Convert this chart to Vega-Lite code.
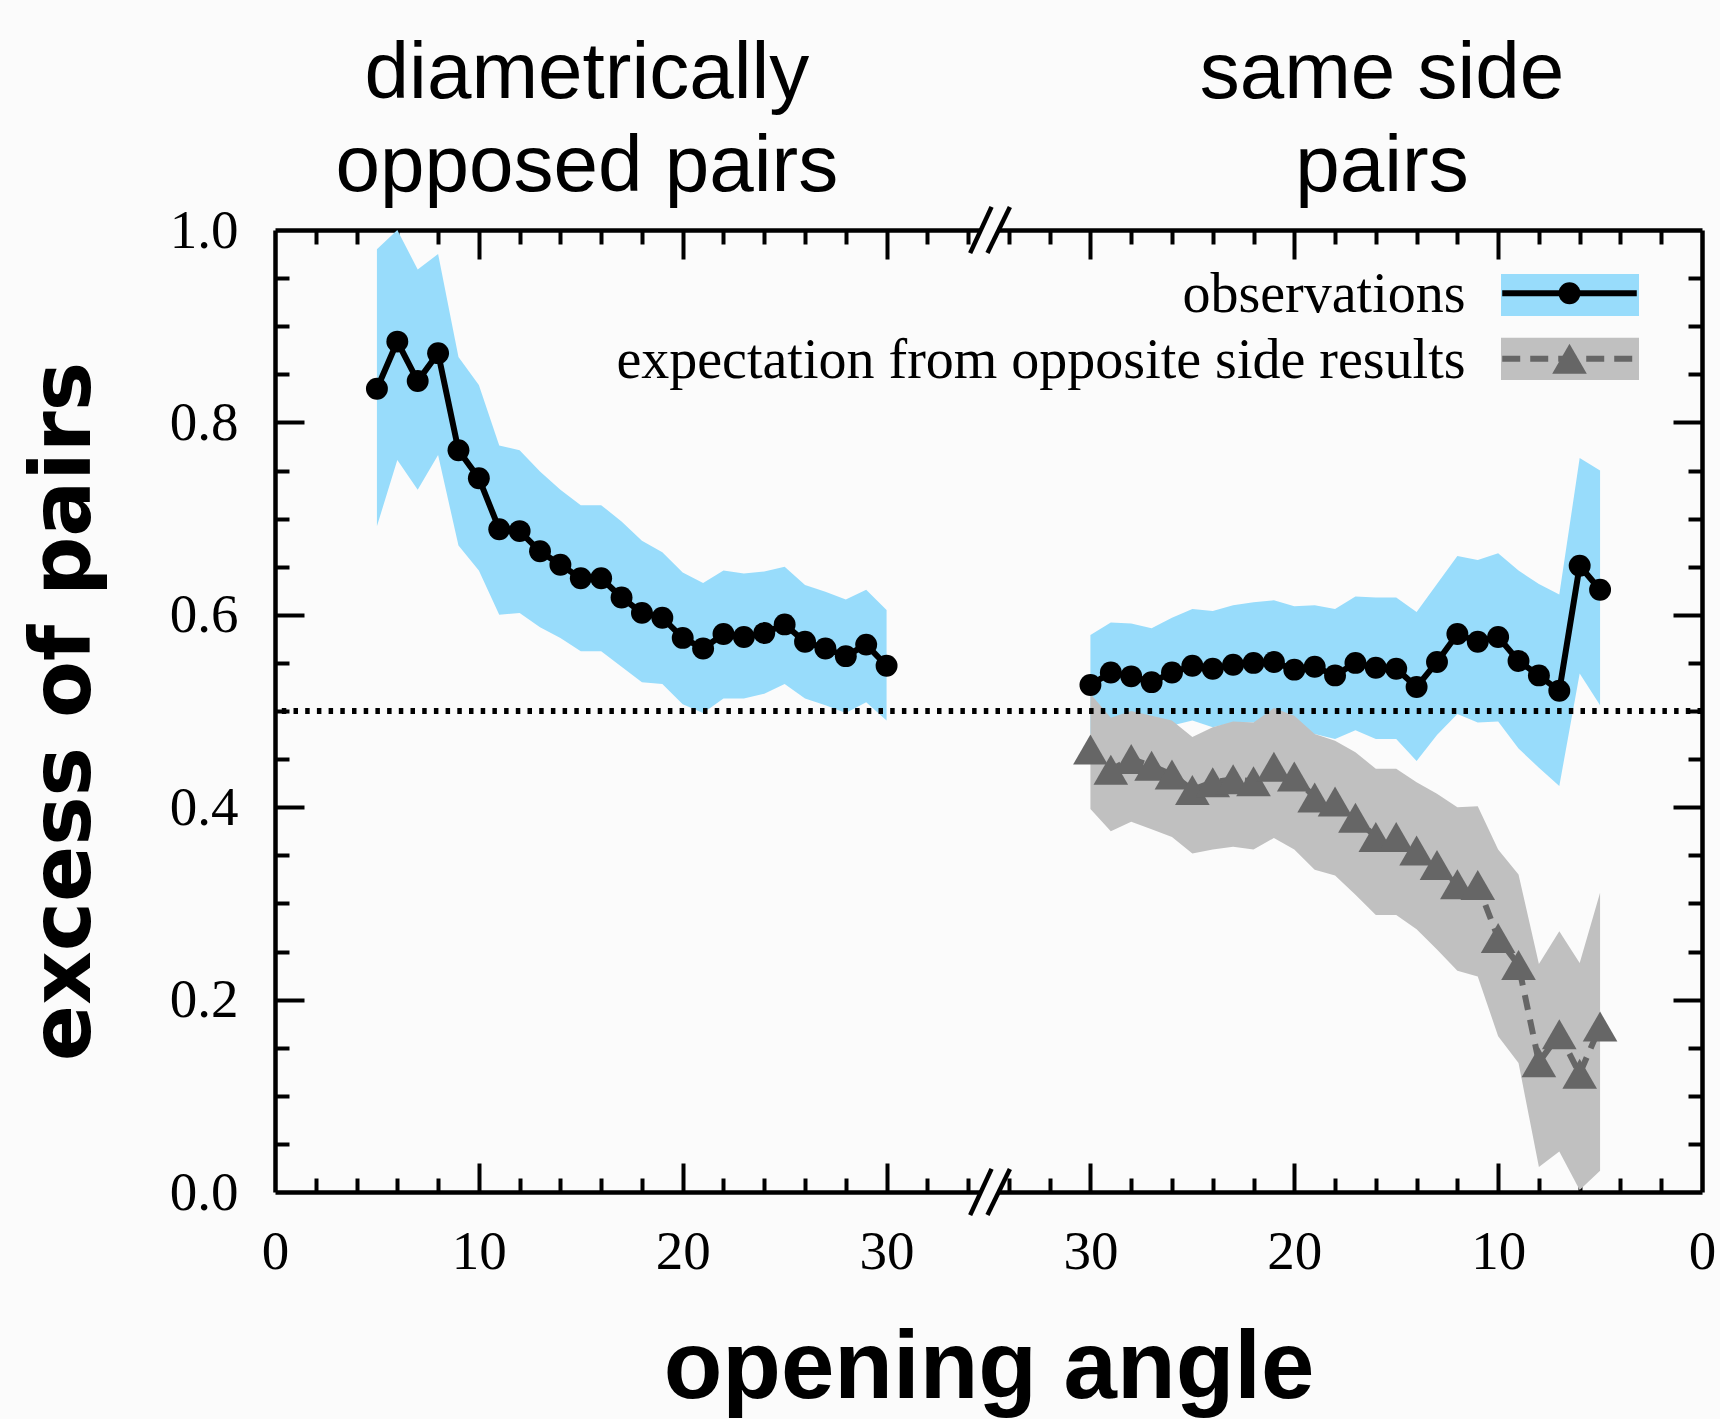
{
  "$schema": "https://vega.github.io/schema/vega-lite/v6.json",
  "width": 1427,
  "height": 962,
  "autosize": {"type": "none"},
  "padding": {"left": 275, "top": 230, "right": 18, "bottom": 227},
  "background": "#fbfbfb",
  "config": {
    "view": {"stroke": null},
    "axis": {
      "grid": false,
      "domainColor": "#000000",
      "domainWidth": 4.5,
      "tickColor": "#000000",
      "tickWidth": 4,
      "labelColor": "#000000",
      "titleColor": "#000000",
      "labelFont": "Liberation Serif",
      "labelFontSize": 55
    }
  },
  "datasets": {
    "opposed": [
      {"angle": 5, "obs": 0.835, "lo": 0.692, "hi": 0.980},
      {"angle": 6, "obs": 0.884, "lo": 0.761, "hi": 1.000},
      {"angle": 7, "obs": 0.843, "lo": 0.730, "hi": 0.959},
      {"angle": 8, "obs": 0.872, "lo": 0.766, "hi": 0.975},
      {"angle": 9, "obs": 0.771, "lo": 0.672, "hi": 0.868},
      {"angle": 10, "obs": 0.742, "lo": 0.646, "hi": 0.839},
      {"angle": 11, "obs": 0.689, "lo": 0.600, "hi": 0.776},
      {"angle": 12, "obs": 0.687, "lo": 0.602, "hi": 0.771},
      {"angle": 13, "obs": 0.666, "lo": 0.587, "hi": 0.749},
      {"angle": 14, "obs": 0.652, "lo": 0.576, "hi": 0.730},
      {"angle": 15, "obs": 0.638, "lo": 0.562, "hi": 0.714},
      {"angle": 16, "obs": 0.638, "lo": 0.562, "hi": 0.714},
      {"angle": 17, "obs": 0.618, "lo": 0.546, "hi": 0.697},
      {"angle": 18, "obs": 0.602, "lo": 0.530, "hi": 0.677},
      {"angle": 19, "obs": 0.597, "lo": 0.528, "hi": 0.665},
      {"angle": 20, "obs": 0.576, "lo": 0.507, "hi": 0.644},
      {"angle": 21, "obs": 0.565, "lo": 0.498, "hi": 0.633},
      {"angle": 22, "obs": 0.580, "lo": 0.513, "hi": 0.646},
      {"angle": 23, "obs": 0.577, "lo": 0.513, "hi": 0.643},
      {"angle": 24, "obs": 0.581, "lo": 0.518, "hi": 0.645},
      {"angle": 25, "obs": 0.590, "lo": 0.528, "hi": 0.650},
      {"angle": 26, "obs": 0.572, "lo": 0.513, "hi": 0.631},
      {"angle": 27, "obs": 0.565, "lo": 0.506, "hi": 0.624},
      {"angle": 28, "obs": 0.557, "lo": 0.498, "hi": 0.616},
      {"angle": 29, "obs": 0.569, "lo": 0.509, "hi": 0.626},
      {"angle": 30, "obs": 0.547, "lo": 0.490, "hi": 0.605}
    ],
    "same": [
      {"angle": 30, "obs": 0.527, "lo": 0.476, "hi": 0.579, "exp": 0.460, "exp_lo": 0.398, "exp_hi": 0.518},
      {"angle": 29, "obs": 0.540, "lo": 0.487, "hi": 0.592, "exp": 0.439, "exp_lo": 0.375, "exp_hi": 0.493},
      {"angle": 28, "obs": 0.536, "lo": 0.481, "hi": 0.591, "exp": 0.450, "exp_lo": 0.385, "exp_hi": 0.500},
      {"angle": 27, "obs": 0.530, "lo": 0.474, "hi": 0.586, "exp": 0.443, "exp_lo": 0.377, "exp_hi": 0.495},
      {"angle": 26, "obs": 0.540, "lo": 0.485, "hi": 0.597, "exp": 0.434, "exp_lo": 0.369, "exp_hi": 0.490},
      {"angle": 25, "obs": 0.547, "lo": 0.490, "hi": 0.606, "exp": 0.418, "exp_lo": 0.352, "exp_hi": 0.473},
      {"angle": 24, "obs": 0.544, "lo": 0.483, "hi": 0.604, "exp": 0.426, "exp_lo": 0.356, "exp_hi": 0.483},
      {"angle": 23, "obs": 0.548, "lo": 0.488, "hi": 0.610, "exp": 0.429, "exp_lo": 0.359, "exp_hi": 0.489},
      {"angle": 22, "obs": 0.550, "lo": 0.488, "hi": 0.613, "exp": 0.427, "exp_lo": 0.356, "exp_hi": 0.488},
      {"angle": 21, "obs": 0.551, "lo": 0.490, "hi": 0.615, "exp": 0.442, "exp_lo": 0.368, "exp_hi": 0.503},
      {"angle": 20, "obs": 0.543, "lo": 0.478, "hi": 0.609, "exp": 0.432, "exp_lo": 0.356, "exp_hi": 0.495},
      {"angle": 19, "obs": 0.546, "lo": 0.476, "hi": 0.610, "exp": 0.410, "exp_lo": 0.335, "exp_hi": 0.476},
      {"angle": 18, "obs": 0.537, "lo": 0.471, "hi": 0.606, "exp": 0.406, "exp_lo": 0.329, "exp_hi": 0.469},
      {"angle": 17, "obs": 0.550, "lo": 0.480, "hi": 0.619, "exp": 0.389, "exp_lo": 0.309, "exp_hi": 0.457},
      {"angle": 16, "obs": 0.545, "lo": 0.471, "hi": 0.618, "exp": 0.369, "exp_lo": 0.288, "exp_hi": 0.440},
      {"angle": 15, "obs": 0.544, "lo": 0.471, "hi": 0.618, "exp": 0.369, "exp_lo": 0.288, "exp_hi": 0.440},
      {"angle": 14, "obs": 0.525, "lo": 0.448, "hi": 0.603, "exp": 0.355, "exp_lo": 0.273, "exp_hi": 0.426},
      {"angle": 13, "obs": 0.551, "lo": 0.475, "hi": 0.632, "exp": 0.340, "exp_lo": 0.252, "exp_hi": 0.414},
      {"angle": 12, "obs": 0.580, "lo": 0.497, "hi": 0.661, "exp": 0.320, "exp_lo": 0.230, "exp_hi": 0.400},
      {"angle": 11, "obs": 0.572, "lo": 0.488, "hi": 0.657, "exp": 0.319, "exp_lo": 0.224, "exp_hi": 0.401},
      {"angle": 10, "obs": 0.577, "lo": 0.489, "hi": 0.664, "exp": 0.264, "exp_lo": 0.162, "exp_hi": 0.356},
      {"angle": 9, "obs": 0.552, "lo": 0.461, "hi": 0.646, "exp": 0.236, "exp_lo": 0.134, "exp_hi": 0.330},
      {"angle": 8, "obs": 0.537, "lo": 0.441, "hi": 0.632, "exp": 0.135, "exp_lo": 0.026, "exp_hi": 0.237},
      {"angle": 7, "obs": 0.521, "lo": 0.422, "hi": 0.621, "exp": 0.164, "exp_lo": 0.042, "exp_hi": 0.271},
      {"angle": 6, "obs": 0.651, "lo": 0.539, "hi": 0.763, "exp": 0.123, "exp_lo": 0.002, "exp_hi": 0.238},
      {"angle": 5, "obs": 0.626, "lo": 0.506, "hi": 0.750, "exp": 0.172, "exp_lo": 0.022, "exp_hi": 0.311}
    ]
  },
  "layer": [
    {
      "data": {"name": "opposed"},
      "mark": {"type": "area", "color": "#98dcfb", "opacity": 1},
      "encoding": {
        "x": {"field": "angle", "type": "quantitative",
          "scale": {"domain": [0, 70], "nice": false, "zero": false},
          "axis": {"orient": "bottom", "values": [0, 10, 20, 30], "ticks": false, "domain": true,
            "labelPadding": 76, "labelBaseline": "alphabetic", "labelFlush": false, "labelOverlap": false,
            "title": "opening angle", "titleFont": "Liberation Sans", "titleFontWeight": "bold",
            "titleFontSize": 96, "titlePadding": 42}},
        "y": {"field": "lo", "type": "quantitative",
          "scale": {"domain": [0, 1], "nice": false, "zero": false},
          "axis": {"orient": "left", "values": [0, 0.2, 0.4, 0.6, 0.8, 1], "format": ".1f", "ticks": false,
            "domain": true, "labelPadding": 37, "labelBaseline": "middle", "labelOverlap": false,
            "title": "excess of pairs", "titleFont": "DejaVu Sans", "titleFontWeight": "bold",
            "titleFontSize": 83, "titlePadding": 63}},
        "y2": {"field": "hi"}
      }
    },
    {
      "data": {"name": "same"},
      "mark": {"type": "area", "color": "#98dcfb", "opacity": 1},
      "encoding": {
        "x": {"field": "angle", "type": "quantitative",
          "scale": {"domain": [0, 70], "nice": false, "zero": false, "reverse": true},
          "axis": {"orient": "bottom", "values": [0, 10, 20, 30], "ticks": false, "domain": false,
            "labelPadding": 76, "labelBaseline": "alphabetic", "labelFlush": false, "labelOverlap": false,
            "title": null}},
        "y": {"field": "lo", "type": "quantitative", "scale": {"domain": [0, 1], "nice": false, "zero": false}, "axis": null},
        "y2": {"field": "hi"}
      }
    },
    {
      "data": {"name": "same"},
      "mark": {"type": "area", "color": "#c0c0c0", "opacity": 1},
      "encoding": {
        "x": {"field": "angle", "type": "quantitative",
          "scale": {"domain": [0, 70], "nice": false, "zero": false, "reverse": true}, "axis": null},
        "y": {"field": "exp_lo", "type": "quantitative", "scale": {"domain": [0, 1], "nice": false, "zero": false}, "axis": null},
        "y2": {"field": "exp_hi"}
      }
    },
    {
      "data": {"values": [{}]},
      "mark": {"type": "rule", "color": "#000000", "strokeWidth": 6, "strokeDash": [4.5, 7.2]},
      "encoding": {
        "y": {"datum": 0.5, "type": "quantitative", "scale": {"domain": [0, 1], "nice": false, "zero": false}, "axis": null}
      }
    },
    {
      "data": {"name": "opposed"},
      "mark": {"type": "line", "color": "#000000", "strokeWidth": 6},
      "encoding": {
        "x": {"field": "angle", "type": "quantitative",
          "scale": {"domain": [0, 70], "nice": false, "zero": false},
          "axis": {"orient": "bottom", "values": [10, 20, 30, 40, 50, 60], "tickSize": -29,
            "labels": false, "domain": false, "title": null}},
        "y": {"field": "obs", "type": "quantitative",
          "scale": {"domain": [0, 1], "nice": false, "zero": false},
          "axis": {"orient": "left", "values": [0.2, 0.4, 0.6, 0.8], "tickSize": -29,
            "labels": false, "domain": false, "title": null}}
      }
    },
    {
      "data": {"name": "opposed"},
      "mark": {"type": "point", "shape": "circle", "filled": true, "size": 480, "color": "#000000", "opacity": 1},
      "encoding": {
        "x": {"field": "angle", "type": "quantitative",
          "scale": {"domain": [0, 70], "nice": false, "zero": false},
          "axis": {"orient": "bottom",
            "values": [2, 4, 6, 8, 12, 14, 16, 18, 22, 24, 26, 28, 32, 34, 36, 38, 42, 44, 46, 48, 52, 54, 56, 58, 62, 64, 66, 68],
            "tickSize": -14, "labels": false, "domain": false, "title": null}},
        "y": {"field": "obs", "type": "quantitative",
          "scale": {"domain": [0, 1], "nice": false, "zero": false},
          "axis": {"orient": "left",
            "values": [0.05, 0.1, 0.15, 0.25, 0.3, 0.35, 0.45, 0.5, 0.55, 0.65, 0.7, 0.75, 0.85, 0.9, 0.95],
            "tickSize": -14, "labels": false, "domain": false, "title": null}}
      }
    },
    {
      "data": {"name": "same"},
      "mark": {"type": "line", "color": "#666666", "strokeWidth": 6, "strokeDash": [15, 10]},
      "encoding": {
        "x": {"field": "angle", "type": "quantitative",
          "scale": {"domain": [0, 70], "nice": false, "zero": false, "reverse": true}, "axis": null},
        "y": {"field": "exp", "type": "quantitative", "scale": {"domain": [0, 1], "nice": false, "zero": false}, "axis": null}
      }
    },
    {
      "data": {"name": "same"},
      "mark": {"type": "point", "shape": "triangle-up", "filled": true, "size": 1200, "color": "#666666", "opacity": 1},
      "encoding": {
        "x": {"field": "angle", "type": "quantitative",
          "scale": {"domain": [0, 70], "nice": false, "zero": false, "reverse": true}, "axis": null},
        "y": {"field": "exp", "type": "quantitative", "scale": {"domain": [0, 1], "nice": false, "zero": false}, "axis": null}
      }
    },
    {
      "data": {"name": "same"},
      "mark": {"type": "line", "color": "#000000", "strokeWidth": 6},
      "encoding": {
        "x": {"field": "angle", "type": "quantitative",
          "scale": {"domain": [0, 70], "nice": false, "zero": false, "reverse": true}, "axis": null},
        "y": {"field": "obs", "type": "quantitative", "scale": {"domain": [0, 1], "nice": false, "zero": false}, "axis": null}
      }
    },
    {
      "data": {"name": "same"},
      "mark": {"type": "point", "shape": "circle", "filled": true, "size": 480, "color": "#000000", "opacity": 1},
      "encoding": {
        "x": {"field": "angle", "type": "quantitative",
          "scale": {"domain": [0, 70], "nice": false, "zero": false, "reverse": true}, "axis": null},
        "y": {"field": "obs", "type": "quantitative", "scale": {"domain": [0, 1], "nice": false, "zero": false}, "axis": null}
      }
    },
    {
      "data": {"values": [{}]},
      "mark": {"type": "text", "text": ["diametrically", "opposed pairs"], "font": "Liberation Sans",
        "fontSize": 80, "lineHeight": 93, "align": "center", "baseline": "alphabetic", "color": "#000000"},
      "encoding": {
        "x": {"datum": 15.3, "type": "quantitative",
          "scale": {"domain": [0, 70], "nice": false, "zero": false},
          "axis": {"orient": "top", "values": [10, 20, 30, 40, 50, 60], "tickSize": -29,
            "labels": false, "domain": true, "title": null}},
        "y": {"datum": 1.137, "type": "quantitative",
          "scale": {"domain": [0, 1], "nice": false, "zero": false},
          "axis": {"orient": "right", "values": [0.2, 0.4, 0.6, 0.8], "tickSize": -29,
            "labels": false, "domain": true, "title": null}}
      }
    },
    {
      "data": {"values": [{}]},
      "mark": {"type": "text", "text": ["same side", "pairs"], "font": "Liberation Sans",
        "fontSize": 80, "lineHeight": 93, "align": "center", "baseline": "alphabetic", "color": "#000000"},
      "encoding": {
        "x": {"datum": 54.3, "type": "quantitative",
          "scale": {"domain": [0, 70], "nice": false, "zero": false},
          "axis": {"orient": "top",
            "values": [2, 4, 6, 8, 12, 14, 16, 18, 22, 24, 26, 28, 32, 34, 36, 38, 42, 44, 46, 48, 52, 54, 56, 58, 62, 64, 66, 68],
            "tickSize": -14, "labels": false, "domain": false, "title": null}},
        "y": {"datum": 1.137, "type": "quantitative",
          "scale": {"domain": [0, 1], "nice": false, "zero": false},
          "axis": {"orient": "right",
            "values": [0.05, 0.1, 0.15, 0.25, 0.3, 0.35, 0.45, 0.5, 0.55, 0.65, 0.7, 0.75, 0.85, 0.9, 0.95],
            "tickSize": -14, "labels": false, "domain": false, "title": null}}
      }
    },
    {
      "data": {"values": [{}]},
      "mark": {"type": "rect", "color": "#98dcfb", "opacity": 1},
      "encoding": {
        "x": {"datum": 60.14, "type": "quantitative", "scale": {"domain": [0, 70], "nice": false, "zero": false}, "axis": null},
        "x2": {"datum": 66.91},
        "y": {"datum": 0.9543, "type": "quantitative", "scale": {"domain": [0, 1], "nice": false, "zero": false}, "axis": null},
        "y2": {"datum": 0.9106}
      }
    },
    {
      "data": {"values": [{}]},
      "mark": {"type": "rect", "color": "#c0c0c0", "opacity": 1},
      "encoding": {
        "x": {"datum": 60.14, "type": "quantitative", "scale": {"domain": [0, 70], "nice": false, "zero": false}, "axis": null},
        "x2": {"datum": 66.91},
        "y": {"datum": 0.888, "type": "quantitative", "scale": {"domain": [0, 1], "nice": false, "zero": false}, "axis": null},
        "y2": {"datum": 0.8441}
      }
    },
    {
      "data": {"values": [{}]},
      "mark": {"type": "rule", "color": "#000000", "strokeWidth": 6},
      "encoding": {
        "x": {"datum": 60.2, "type": "quantitative", "scale": {"domain": [0, 70], "nice": false, "zero": false}, "axis": null},
        "x2": {"datum": 66.8},
        "y": {"datum": 0.9342, "type": "quantitative", "scale": {"domain": [0, 1], "nice": false, "zero": false}, "axis": null}
      }
    },
    {
      "data": {"values": [{}]},
      "mark": {"type": "rule", "color": "#666666", "strokeWidth": 6, "strokeDash": [18, 10]},
      "encoding": {
        "x": {"datum": 60.2, "type": "quantitative", "scale": {"domain": [0, 70], "nice": false, "zero": false}, "axis": null},
        "x2": {"datum": 66.8},
        "y": {"datum": 0.8661, "type": "quantitative", "scale": {"domain": [0, 1], "nice": false, "zero": false}, "axis": null}
      }
    },
    {
      "data": {"values": [{}]},
      "mark": {"type": "point", "shape": "circle", "filled": true, "size": 480, "color": "#000000", "opacity": 1},
      "encoding": {
        "x": {"datum": 63.5, "type": "quantitative", "scale": {"domain": [0, 70], "nice": false, "zero": false}, "axis": null},
        "y": {"datum": 0.9342, "type": "quantitative", "scale": {"domain": [0, 1], "nice": false, "zero": false}, "axis": null}
      }
    },
    {
      "data": {"values": [{}]},
      "mark": {"type": "point", "shape": "triangle-up", "filled": true, "size": 1200, "color": "#666666", "opacity": 1},
      "encoding": {
        "x": {"datum": 63.5, "type": "quantitative", "scale": {"domain": [0, 70], "nice": false, "zero": false}, "axis": null},
        "y": {"datum": 0.8661, "type": "quantitative", "scale": {"domain": [0, 1], "nice": false, "zero": false}, "axis": null}
      }
    },
    {
      "data": {"values": [{}]},
      "mark": {"type": "text", "text": "observations", "font": "Liberation Serif", "fontSize": 56, "align": "right", "baseline": "alphabetic", "color": "#000000"},
      "encoding": {
        "x": {"datum": 58.4, "type": "quantitative", "scale": {"domain": [0, 70], "nice": false, "zero": false}, "axis": null},
        "y": {"datum": 0.9151, "type": "quantitative", "scale": {"domain": [0, 1], "nice": false, "zero": false}, "axis": null}
      }
    },
    {
      "data": {"values": [{}]},
      "mark": {"type": "text", "text": "expectation from opposite side results", "font": "Liberation Serif", "fontSize": 56, "align": "right", "baseline": "alphabetic", "color": "#000000"},
      "encoding": {
        "x": {"datum": 58.4, "type": "quantitative", "scale": {"domain": [0, 70], "nice": false, "zero": false}, "axis": null},
        "y": {"datum": 0.8458, "type": "quantitative", "scale": {"domain": [0, 1], "nice": false, "zero": false}, "axis": null}
      }
    },
    {
      "data": {"values": [{}]},
      "mark": {"type": "rule", "color": "#fbfbfb", "strokeWidth": 8},
      "encoding": {
        "x": {"datum": 34.6, "type": "quantitative", "scale": {"domain": [0, 70], "nice": false, "zero": false}, "axis": null},
        "x2": {"datum": 35.5},
        "y": {"datum": 0, "type": "quantitative", "scale": {"domain": [0, 1], "nice": false, "zero": false}, "axis": null}
      }
    },
    {
      "data": {"values": [{}]},
      "mark": {"type": "rule", "color": "#fbfbfb", "strokeWidth": 8},
      "encoding": {
        "x": {"datum": 34.6, "type": "quantitative", "scale": {"domain": [0, 70], "nice": false, "zero": false}, "axis": null},
        "x2": {"datum": 35.5},
        "y": {"datum": 1, "type": "quantitative", "scale": {"domain": [0, 1], "nice": false, "zero": false}, "axis": null}
      }
    },
    {
      "data": {"values": [{}]},
      "mark": {"type": "rule", "color": "#000000", "strokeWidth": 4.5},
      "encoding": {
        "x": {"datum": 34.1, "type": "quantitative", "scale": {"domain": [0, 70], "nice": false, "zero": false}, "axis": null},
        "x2": {"datum": 35.15},
        "y": {"datum": -0.024, "type": "quantitative", "scale": {"domain": [0, 1], "nice": false, "zero": false}, "axis": null},
        "y2": {"datum": 0.024}
      }
    },
    {
      "data": {"values": [{}]},
      "mark": {"type": "rule", "color": "#000000", "strokeWidth": 4.5},
      "encoding": {
        "x": {"datum": 34.95, "type": "quantitative", "scale": {"domain": [0, 70], "nice": false, "zero": false}, "axis": null},
        "x2": {"datum": 36.05},
        "y": {"datum": -0.024, "type": "quantitative", "scale": {"domain": [0, 1], "nice": false, "zero": false}, "axis": null},
        "y2": {"datum": 0.024}
      }
    },
    {
      "data": {"values": [{}]},
      "mark": {"type": "rule", "color": "#000000", "strokeWidth": 4.5},
      "encoding": {
        "x": {"datum": 34.1, "type": "quantitative", "scale": {"domain": [0, 70], "nice": false, "zero": false}, "axis": null},
        "x2": {"datum": 35.15},
        "y": {"datum": 0.976, "type": "quantitative", "scale": {"domain": [0, 1], "nice": false, "zero": false}, "axis": null},
        "y2": {"datum": 1.024}
      }
    },
    {
      "data": {"values": [{}]},
      "mark": {"type": "rule", "color": "#000000", "strokeWidth": 4.5},
      "encoding": {
        "x": {"datum": 34.95, "type": "quantitative", "scale": {"domain": [0, 70], "nice": false, "zero": false}, "axis": null},
        "x2": {"datum": 36.05},
        "y": {"datum": 0.976, "type": "quantitative", "scale": {"domain": [0, 1], "nice": false, "zero": false}, "axis": null},
        "y2": {"datum": 1.024}
      }
    }
  ],
  "resolve": {"scale": {"x": "independent"}, "axis": {"x": "independent", "y": "independent"}}
}
